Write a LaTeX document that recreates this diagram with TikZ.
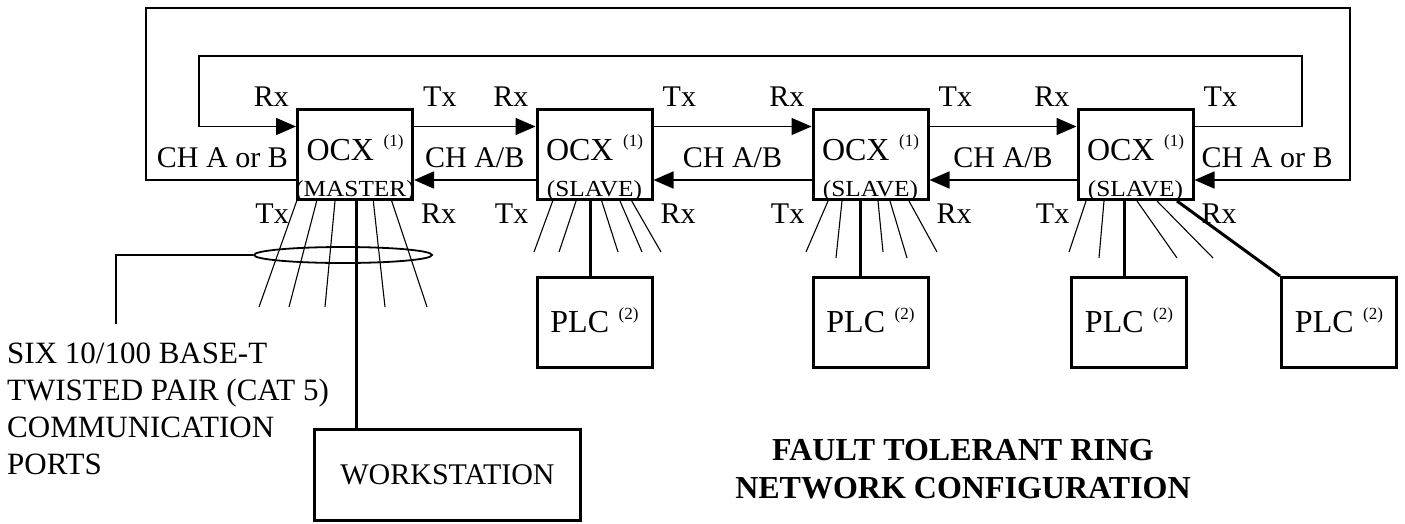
\documentclass[tikz,border=0pt]{standalone}
\usepackage{fontspec}
\setmainfont{Liberation Serif}
\newfontfamily\widefont[FakeStretch=1.1]{Liberation Serif}
\usetikzlibrary{arrows.meta,positioning,shapes.geometric,calc}

\tikzset{
  unitbox/.style={draw,line width=3pt,minimum width=115pt,minimum height=90pt,inner sep=0pt},
  plcbox/.style={unitbox,font=\fontsize{32}{32}\selectfont},
  ocxtitle/.style={anchor=base,inner sep=0pt,font=\fontsize{32}{32}\selectfont},
  ocxrole/.style={anchor=base,inner sep=0pt,font=\widefont\fontsize{23}{23}\selectfont},
  port/.style={inner sep=0pt,font=\fontsize{30}{30}\selectfont},
  chlabel/.style={inner sep=0pt,anchor=base,font=\fontsize{30}{30}\selectfont},
  link/.style={line width=1.6pt},
  feed/.style={link,-{Triangle[length=20pt,width=17pt]}},
  wire/.style={line width=1.1pt},
  tap/.style={line width=3pt}
}

\begin{document}
\begin{tikzpicture}[x=1pt,y=-1pt]
  \useasboundingbox (0,0) rectangle (1405,523);
  \def\fnref#1{\hspace{0.3em}\raisebox{0.42em}[0pt][0pt]{\fontsize{17}{17}\selectfont(#1)}}

  % ring units
  \node[unitbox] (ocxM) at (355,154.5) {};
  \node[unitbox] (ocxA) at (594.5,154.5) {};
  \node[unitbox] (ocxB) at (870.5,154.5) {};
  \node[unitbox] (ocxC) at (1135.5,154.5) {};
  \foreach \b/\r in {ocxM/MASTER,ocxA/SLAVE,ocxB/SLAVE,ocxC/SLAVE} {
    \node[ocxtitle] (\b-t) at ([yshift=-5.5pt]\b.center) {OCX\fnref{1}};
    \node[ocxrole] (\b-r) at ([yshift=-41.5pt]\b.center) {(\r)};
    \node[port,anchor=base east] (\b-rxa) at ([xshift=-7pt,yshift=2pt]\b.north west) {Rx};
    \node[port,anchor=base west] (\b-txa) at ([xshift=9pt,yshift=2pt]\b.north east) {Tx};
    \node[port,anchor=base east] (\b-txb) at ([xshift=-7pt,yshift=-22.5pt]\b.south west) {Tx};
    \node[port,anchor=base west] (\b-rxb) at ([xshift=7pt,yshift=-22.5pt]\b.south east) {Rx};
  }

  % links between neighbours
  \foreach \p/\n in {ocxM/ocxA,ocxA/ocxB,ocxB/ocxC} {
    \draw[feed] ([yshift=28pt]\p.east) -- ([yshift=28pt]\n.west);
    \draw[feed] ([yshift=-25.5pt]\n.west) -- ([yshift=-25.5pt]\p.east);
    \path (\p.east) -- (\n.west) node[chlabel,midway,yshift=-12.5pt] (\p-ch) {CH A/B};
  }
  \node[chlabel,anchor=base east] (chleft) at ([xshift=-8pt,yshift=-12.5pt]ocxM.west) {CH A or B};
  \node[chlabel,anchor=base west] (chright) at ([xshift=7pt,yshift=-12.5pt]ocxC.east) {CH A or B};

  % closing loops
  \coordinate (innerNW) at (199,56);
  \coordinate (innerNE) at (1302,56);
  \coordinate (outerNW) at (146,8);
  \coordinate (outerNE) at (1350,8);
  \draw[feed] ([yshift=28pt]ocxC.east) -| (innerNE) -- (innerNW) |- ([yshift=28pt]ocxM.west);
  \draw[feed] ([yshift=-25.5pt]ocxM.west) -| (outerNW) -- (outerNE) |- ([yshift=-25.5pt]ocxC.east);

  % attached devices
  \node[plcbox,below=75pt of ocxA] (plcA) {PLC\fnref{2}};
  \node[plcbox,below=75pt of ocxB] (plcB) {PLC\fnref{2}};
  \node[plcbox,below=75pt of ocxC,xshift=-6.5pt] (plcC) {PLC\fnref{2}};
  \node[plcbox,right=92pt of plcC] (plcD) {PLC\fnref{2}};
  \node[draw,line width=3pt,minimum width=266pt,minimum height=91pt,inner sep=0pt,
        font=\fontsize{30}{30}\selectfont] (ws) at (447.5,475) {WORKSTATION};

  % twisted pair ports
  \foreach \dx/\ex/\ey in {-58.3/259/307,-38.3/289/307,-20/325/307,18.3/385/307,36.7/427/307}
    \draw[wire] ([xshift=\dx pt]ocxM.south) -- (\ex,\ey);
  \foreach \dx/\ex/\ey in {-41.8/534/252,-18.5/559/252,7.2/618/252,25.5/642/252,37.2/661/252}
    \draw[wire] ([xshift=\dx pt]ocxA.south) -- (\ex,\ey);
  \foreach \dx/\ex/\ey in {-42.5/806/252,-28.5/836/258,7.5/883/252,19.5/907/258,38.5/937/252}
    \draw[wire] ([xshift=\dx pt]ocxB.south) -- (\ex,\ey);
  \foreach \dx/\ex/\ey in {-49.5/1069/252,-31.5/1099/258,1.5/1177/258,21.5/1213/258}
    \draw[wire] ([xshift=\dx pt]ocxC.south) -- (\ex,\ey);

  \coordinate (tapM) at ([xshift=1.7pt]ocxM.south);
  \coordinate (tapA) at ([xshift=-4.5pt]ocxA.south);
  \coordinate (tapB) at ([xshift=-10.5pt]ocxB.south);
  \coordinate (tapC) at ([xshift=-11.5pt]ocxC.south);
  \coordinate (tapD) at ([xshift=41.5pt]ocxC.south);
  \draw[tap] (tapM) -- (tapM |- ws.north);
  \draw[tap] (tapA) -- (tapA |- plcA.north);
  \draw[tap] (tapB) -- (tapB |- plcB.north);
  \draw[tap] (tapC) -- (tapC |- plcC.north);
  \draw[tap] (tapD) -- (plcD.north west);

  % cable bundle note
  \node[draw,ellipse,line width=1.8pt,minimum width=178pt,minimum height=16pt,inner sep=0pt] (bundle) at (343,255) {};
  \coordinate (portsend) at (116,324);
  \draw[line width=1.5pt] (bundle.west) -| (portsend);
  \node[anchor=north west,align=left,inner sep=0pt,font=\fontsize{31}{37}\selectfont] (ports) at (7,343)
    {SIX 10/100 BASE-T\\TWISTED PAIR (CAT 5)\\COMMUNICATION\\PORTS};

  \node[anchor=north,align=center,inner sep=0pt,font=\bfseries\fontsize{32}{38}\selectfont] (title) at (963,439)
    {FAULT TOLERANT RING\\NETWORK CONFIGURATION};
\end{tikzpicture}
\end{document}
